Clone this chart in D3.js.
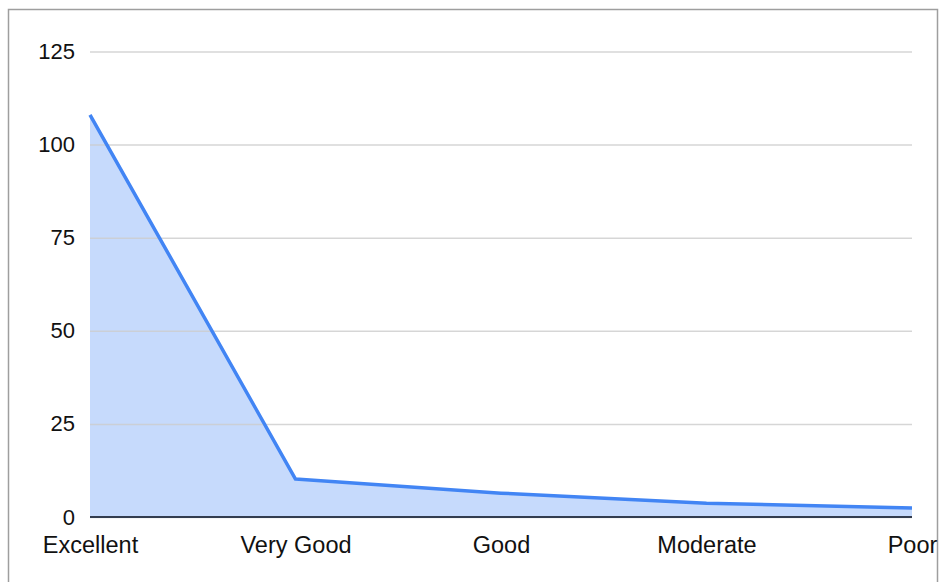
<!DOCTYPE html>
<html><head><meta charset="utf-8">
<script src="https://cdn.jsdelivr.net/npm/d3@7"></script>
<style>html,body{margin:0;padding:0;background:#fff;}svg{display:block;}</style>
</head><body>
<svg id="chart" width="943" height="582"></svg>
<script>
const categories = ["Excellent", "Very Good", "Good", "Moderate", "Poor"];
const values = [108, 10.2, 6.4, 3.7, 2.4];
const yTicks = [0, 25, 50, 75, 100, 125];

const svg = d3.select("#chart");
const W = 943, H = 582;
const m = {left: 90, right: 31, top: 51.5, bottom: 65};

svg.append("rect").attr("x", 8.5).attr("y", 9.5).attr("width", 929).attr("height", 600)
  .attr("fill", "#fff").attr("stroke", "#9e9e9e").attr("stroke-width", 1.5);

const x = d3.scalePoint().domain(categories).range([m.left, W - m.right]);
const y = d3.scaleLinear().domain([0, 125]).range([H - m.bottom, m.top]);

const font = "'Liberation Sans', Arial, sans-serif";

// gridlines
const yAxis = d3.axisLeft(y).tickValues(yTicks).tickSize(-(W - m.right - m.left)).tickPadding(15);
const gy = svg.append("g").attr("transform", `translate(${m.left},0)`).call(yAxis);
gy.select(".domain").remove();
gy.selectAll(".tick line").attr("stroke", "#cccccc").attr("stroke-width", 1.5);
gy.selectAll(".tick text").attr("fill", "#111").style("font-family", font).style("font-size", "22px");

// area
const data = categories.map((c, i) => ({c, v: values[i]}));
svg.append("path").datum(data)
  .attr("d", d3.area().x(d => x(d.c)).y0(y(0)).y1(d => y(d.v)))
  .attr("fill", "#c6dafc");
gy.raise();
gy.selectAll(".tick line").attr("stroke-opacity", 0.8);

// line
svg.append("path").datum(data)
  .attr("d", d3.line().x(d => x(d.c)).y(d => y(d.v)))
  .attr("fill", "none").attr("stroke", "#4285f4").attr("stroke-width", 3.5).attr("stroke-linejoin", "round");

// baseline
const xAxis = d3.axisBottom(x).tickSize(0).tickPadding(19);
const gx = svg.append("g").attr("transform", `translate(0,${y(0)})`).call(xAxis);
gx.select(".domain").attr("stroke", "#333d4f").attr("stroke-width", 2).attr("d", `M${m.left},0H${W - m.right}`);
gx.selectAll(".tick text").attr("fill", "#111").style("font-family", font).style("font-size", "23.5px");
</script>
</body></html>
